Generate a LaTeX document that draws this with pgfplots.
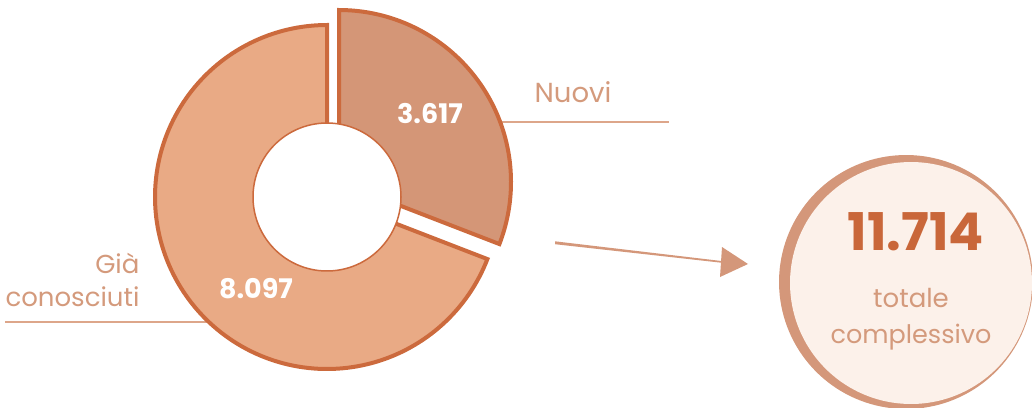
\documentclass[border=0pt]{standalone}
\usepackage{pgfplots}
\pgfplotsset{compat=1.18}
\usepackage{pgfplotstable}
\usepackage{fontspec}
\setmainfont{Poppins}

\definecolor{edge}{HTML}{CC6A3D}
\definecolor{bigfill}{HTML}{E9AA85}
\definecolor{newfill}{HTML}{D49677}
\definecolor{lighttxt}{HTML}{D49A7C}
\definecolor{lead}{HTML}{DDA68A}
\definecolor{circfill}{HTML}{FCF1EA}
\definecolor{circbord}{HTML}{D4977A}
\definecolor{numc}{HTML}{C9673A}

\pgfplotstableread{
label value
Nuovi 3617
Gia 8097
}\datatable
\pgfplotstablegetelem{0}{value}\of\datatable \let\vN\pgfplotsretval
\pgfplotstablegetelem{1}{value}\of\datatable \let\vG\pgfplotsretval
\pgfmathsetmacro\fracN{\vN/(\vN+\vG)}
\pgfmathsetmacro\aN{90-360*\fracN}
\pgfmathsetmacro\aNb{\aN+360}

\begin{document}
\begin{tikzpicture}
\begin{axis}[scale only axis, width=1032pt, height=407pt,
  xmin=0, xmax=1032, ymin=0, ymax=407, y dir=reverse,
  hide axis, clip=true]
% leader lines
\addplot[color=lead, line width=2pt] coordinates {(5,322) (215,322)};
\addplot[color=lead, line width=2pt] coordinates {(490,122) (669,122)};
% big slice
\addplot[fill=bigfill, draw=edge, line width=4pt, line join=miter, domain=90:\aNb, samples=150, variable=\t]
  ({327+172*cos(\t)},{197-172*sin(\t)}) -- (axis cs:327,197) -- cycle;
% new slice (exploded)
\addplot[fill=newfill, draw=edge, line width=4pt, line join=miter, domain=\aN:90, samples=100, variable=\t]
  ({339+172*cos(\t)},{182-172*sin(\t)}) -- (axis cs:339,182) -- cycle;
% hole
\addplot[fill=white, draw=edge, line width=1.5pt, domain=0:360, samples=120, variable=\t]
  ({327+74*cos(\t)},{197-74*sin(\t)}) -- cycle;
% arrow
\addplot[fill=circbord, draw=none] coordinates {(555,241.3) (724,261.3) (724,263) (555,244.2)} -- cycle;
\addplot[fill=circbord, draw=none] coordinates {(722,247) (748,264) (720,277)} -- cycle;
% total circle
\addplot[fill=circbord, draw=none, domain=0:360, samples=150, variable=\t]
  ({906+127*cos(\t)},{282-127*sin(\t)}) -- cycle;
\addplot[fill=circfill, draw=none, domain=0:360, samples=150, variable=\t]
  ({911+121*cos(\t)},{283-121*sin(\t)}) -- cycle;
% texts
\node[anchor=base, text=lighttxt, font=\fontsize{27.5}{30}\selectfont] at (axis cs:573,102) {Nuovi};
\node[anchor=base east, text=lighttxt, font=\fontsize{26}{30}\selectfont] at (axis cs:143,273) {Già};
\node[anchor=base east, text=lighttxt, font=\fontsize{26}{30}\selectfont] at (axis cs:143,306) {conosciuti};
\node[anchor=base, text=white, font=\fontsize{27}{28}\selectfont\bfseries] at (axis cs:430,123) {3.617};
\node[anchor=base, text=white, font=\fontsize{27}{28}\selectfont\bfseries] at (axis cs:256,298) {8.097};
\node[anchor=base, text=numc, font=\fontsize{52}{56}\selectfont\bfseries] at (axis cs:916,250) {11.714};
\node[anchor=base, text=lighttxt, font=\fontsize{26}{30}\selectfont] at (axis cs:911,307) {totale};
\node[anchor=base, text=lighttxt, font=\fontsize{25.5}{30}\selectfont] at (axis cs:911,343) {complessivo};
\end{axis}
\pgfresetboundingbox
\path (current axis.south west) rectangle (current axis.north east);
\end{tikzpicture}
\end{document}
